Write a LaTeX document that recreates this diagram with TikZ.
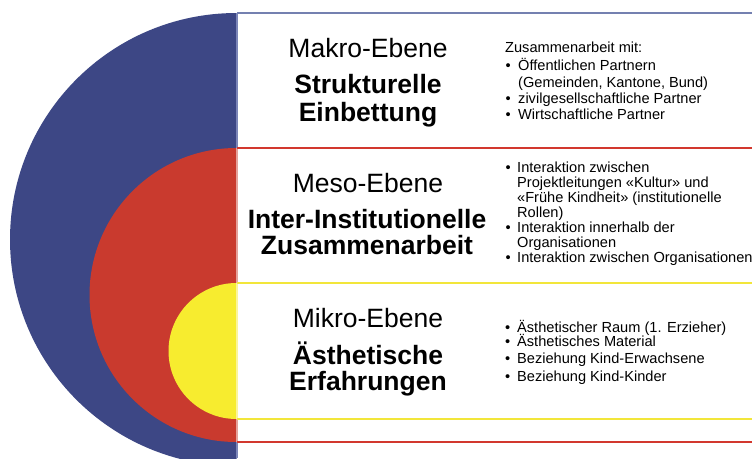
\documentclass[tikz,border=0pt]{standalone}
\usepackage{fontspec}
\setmainfont{Liberation Sans}
\definecolor{cblue}{HTML}{3D4785}
\definecolor{cred}{HTML}{C93A2E}
\definecolor{cyel}{HTML}{F7EC2F}
\definecolor{lblue}{HTML}{7C86B8}
\definecolor{lred}{HTML}{E4A29C}
\definecolor{lyel}{HTML}{FBF59A}
\definecolor{topline}{HTML}{7480B0}
\definecolor{redline}{HTML}{D2382E}
\definecolor{yelline}{HTML}{F2E63A}
\begin{document}
\begin{tikzpicture}[x=1pt,y=-1pt,
  lvl/.style={anchor=base,inner sep=0pt,font=\fontsize{26.5}{28}\selectfont},
  ttl/.style={anchor=base,inner sep=0pt,font=\fontsize{26.5}{28}\selectfont\bfseries},
  itm/.style={anchor=base west,inner sep=0pt,font=\fontsize{14.6}{16}\selectfont},
  bul/.style={anchor=base west,inner sep=0pt,font=\fontsize{14.6}{16}\selectfont}]
\useasboundingbox (0,0) rectangle (752,458);
\fill[white] (0,0) rectangle (752,458);
% half discs
\begin{scope}
  \clip (0,0) rectangle (236.5,458);
  \fill[cblue] (236.5,239.5) circle[radius=226.5];
  \fill[cred] (236.5,295) circle[radius=147];
  \fill[cyel] (236.5,351) circle[radius=68];
\end{scope}
% vertical light borders
\draw[lblue,line width=1.4pt] (237,13) -- (237,148);
\draw[lred,line width=1.4pt] (237,148) -- (237,283);
\draw[lyel,line width=1.4pt] (237,283) -- (237,419);
\draw[lred,line width=1.4pt] (237,419) -- (237,442);
\draw[lblue,line width=1.4pt] (237,442) -- (237,458);
% horizontal lines
\coordinate (t0) at (237,13);   \coordinate (t1) at (752,13);
\coordinate (r0) at (237,148);  \coordinate (r1) at (752,148);
\coordinate (y0) at (237,283);  \coordinate (y1) at (752,283);
\coordinate (y2) at (237,419);  \coordinate (y3) at (752,419);
\coordinate (r2) at (237,442);  \coordinate (r3) at (752,442);
\draw[topline,line width=1.3pt] (t0) -- (t1);
\draw[redline,line width=1.3pt] (r0) -- (r1);
\draw[yelline,line width=1.3pt] (y0) -- (y1);
\draw[yelline,line width=1.3pt] (y2) -- (y3);
\draw[redline,line width=1.3pt] (r2) -- (r3);
% Makro
\node[lvl] (makro) at (368,57) {Makro-Ebene};
\node[ttl] (makroA) at (368,93) {Strukturelle};
\node[ttl] (makroB) at (368,121) {Einbettung};
\node[itm] (ma0) at (505,52) {Zusammenarbeit mit:};
\node[bul] (mab1) at (505.5,70) {•};
\node[itm] (ma1) at (518,70) {Öffentlichen Partnern};
\node[itm] (ma2) at (518,87) {(Gemeinden, Kantone, Bund)};
\node[bul] (mab3) at (505.5,103) {•};
\node[itm] (ma3) at (518,103) {zivilgesellschaftliche Partner};
\node[bul] (mab4) at (505.5,119) {•};
\node[itm] (ma4) at (518,119) {Wirtschaftliche Partner};
% Meso
\node[lvl] (meso) at (368,192) {Meso-Ebene};
\node[ttl] (mesoA) at (367,228) {Inter-Institutionelle};
\node[ttl] (mesoB) at (367,254) {Zusammenarbeit};
\node[bul] (meb1) at (505.5,172) {•};
\node[itm] (me1) at (517,172) {Interaktion zwischen};
\node[itm] (me2) at (517,187) {Projektleitungen «Kultur» und};
\node[itm] (me3) at (517,202) {«Frühe Kindheit» (institutionelle};
\node[itm] (me4) at (517,217) {Rollen)};
\node[bul] (meb5) at (505.5,232) {•};
\node[itm] (me5) at (517,232) {Interaktion innerhalb der};
\node[itm] (me6) at (517,247) {Organisationen};
\node[bul] (meb7) at (505.5,262) {•};
\node[itm] (me7) at (517,262) {Interaktion zwischen Organisationen};
% Mikro
\node[lvl] (mikro) at (368,327) {Mikro-Ebene};
\node[ttl] (mikroA) at (368,364) {Ästhetische};
\node[ttl] (mikroB) at (368,390) {Erfahrungen};
\node[bul] (mib1) at (505,332) {•};
\node[itm] (mi1) at (517,332) {Ästhetischer Raum (1. Erzieher)};
\node[bul] (mib2) at (505,346) {•};
\node[itm] (mi2) at (517,346) {Ästhetisches Material};
\node[bul] (mib3) at (505,363) {•};
\node[itm] (mi3) at (517,363) {Beziehung Kind-Erwachsene};
\node[bul] (mib4) at (505,381) {•};
\node[itm] (mi4) at (517,381) {Beziehung Kind-Kinder};
\end{tikzpicture}
\end{document}
